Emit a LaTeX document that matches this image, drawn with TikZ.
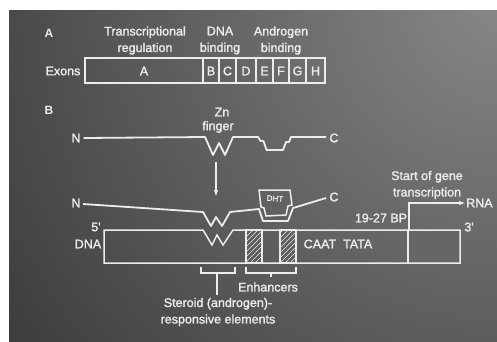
\documentclass[tikz,border=0pt]{standalone}
\usepackage{fontspec}
\setmainfont{Liberation Sans}
\font\labf="Liberation Sans:embolden=1.6" at 12.5pt
\font\smallf="Liberation Sans:embolden=1.6" at 8pt
\font\panf="Liberation Sans/B" at 12pt
\usetikzlibrary{arrows.meta}
\definecolor{bgdark}{RGB}{60,60,60}
\definecolor{bglight}{RGB}{135,135,135}
\definecolor{ink}{RGB}{236,236,236}
\definecolor{speck}{RGB}{102,102,102}
\begin{document}
\begin{tikzpicture}[x=1pt,y=-1pt,
  lbl/.style={text=ink, font=\labf, inner sep=0pt, align=center},
  panel/.style={text=ink, font=\panf, inner sep=0pt},
  wl/.style={draw=ink, line width=1.8pt, line join=round},
  box/.style={draw=ink, line width=1.5pt, line join=miter},
  hatch/.style={draw=ink, line width=0.6pt}]
\useasboundingbox (0,0) rectangle (497,341);
% background
\fill[white] (0,0) rectangle (497,341);
\fill[bgdark] (9,10) rectangle (497,341);
\begin{scope}
  \clip (9,10) rectangle (497,341);
  \shade[inner color=bglight, outer color=bgdark] (497,0) circle (600);
\end{scope}

% ---------- Panel A ----------
\node[panel] (pA) at (49,33) {A};
\node[lbl] (treg) at (145,40.5) {Transcriptional\\[4.5pt]regulation};
\node[lbl] (dnab) at (220,40.5) {DNA\\[4.5pt]binding};
\node[lbl] (andb) at (281,40.5) {Androgen\\[4.5pt]binding};
\node[lbl] (exons) at (63,71) {Exons};
\draw[box] (85,58) rectangle (325,83);
\foreach \x in {203,219,236,256,273,289,306}{\draw[box] (\x,58) -- (\x,83);}
\node[lbl] (eA) at (144,71) {A};
\node[lbl] (eB) at (211,71) {B};
\node[lbl] (eC) at (227.5,71) {C};
\node[lbl] (eD) at (246,71) {D};
\node[lbl] (eE) at (264.5,71) {E};
\node[lbl] (eF) at (281,71) {F};
\node[lbl] (eG) at (297.5,71) {G};
\node[lbl] (eH) at (315.5,71) {H};

% ---------- Panel B ----------
\node[panel] (pB) at (49,110) {B};
\node[lbl] (zn) at (222,112) {Zn};
\node[lbl] (fing) at (218,127) {finger};

% free protein
\node[lbl] (n1) at (76,138) {N};
\node[lbl] (c1) at (334,138) {C};
\draw[wl] (n1.east) ++(3,0) -- (205,137) -- (213,155) -- (219,143) -- (225,155) -- (233,137)
  -- (258,137) -- (260.5,141) -- (263.5,141) -- (266.5,150) -- (283,150) -- (286,142) -- (289,142) -- (291,137)
  -- (326,137);

% arrow
\coordinate (arrS) at (216,162);
\coordinate (arrE) at (216,197);
\draw[draw=ink, line width=1.6pt, -{Latex[length=7pt,width=4.5pt]}] (arrS) -- (arrE);

% bound protein
\node[lbl] (n2) at (76,203) {N};
\node[lbl] (c2) at (334,197) {C};
\draw[box] (259,190) -- (290,190) -- (292,205) -- (288,206) -- (286,215) -- (266,216) -- (264,208) -- (261,207) -- cycle;
\node[text=ink, font=\smallf, inner sep=0pt, rotate=-4] (dht) at (275,198.5) {DHT};
\draw[wl] (83,204) -- (203,212) -- (211,226) -- (216,217) -- (222,226) -- (230,212) -- (259,209)
  -- (263,221) -- (288,221) -- (293,208) -- (326,198);

% DNA
\fill[speck] (408,230) rectangle (460,263);
\begin{scope}
  \clip (246,230) rectangle (262,263) (280,230) rectangle (296,263);
  \foreach \k in {-40,-35,...,80}{\draw[hatch] (240+\k,263) -- (280+\k,223);}
\end{scope}
\draw[box] (246,230) rectangle (262,263);
\draw[box] (280,230) rectangle (296,263);
\draw[box] (104,230) -- (203,230) -- (212,245) -- (217,235) -- (223,245) -- (233,230) -- (460,230)
  -- (460,263) -- (104,263) -- cycle;
\draw[box] (408,230) -- (408,263);
\node[lbl] (five) at (96,227) {5'};
\node[lbl] (dnal) at (88,244) {DNA};
\node[lbl] (three) at (469,227) {3'};
\node[lbl] (caat) at (338,244) {CAAT\ \ TATA};

% transcription start
\node[lbl] (bp) at (381,218) {19-27 BP};
\node[lbl] (startl) at (427,185) {Start of gene\\[4.5pt]transcription};
\node[lbl, anchor=west] (rna) at (466,203) {RNA};
\coordinate (tssB) at (409,230);
\coordinate (tssT) at (409,203);
\draw[draw=ink, line width=1.4pt, -{Latex[length=7pt,width=4.5pt]}] (tssB) -- (tssT) -- (rna.west);

% brackets
\draw[box] (201,267) -- (201,273) -- (235,273) -- (235,267);
\draw[box] (217,273) -- (217,295);
\draw[box] (246,267) -- (246,273) -- (296,273) -- (296,267);
\draw[box] (271,273) -- (271,277);
\node[lbl] (enh) at (268,287) {Enhancers};
\node[lbl] (ster) at (218,312) {Steroid (androgen)-\\[4.5pt]responsive elements};
\end{tikzpicture}
\end{document}
